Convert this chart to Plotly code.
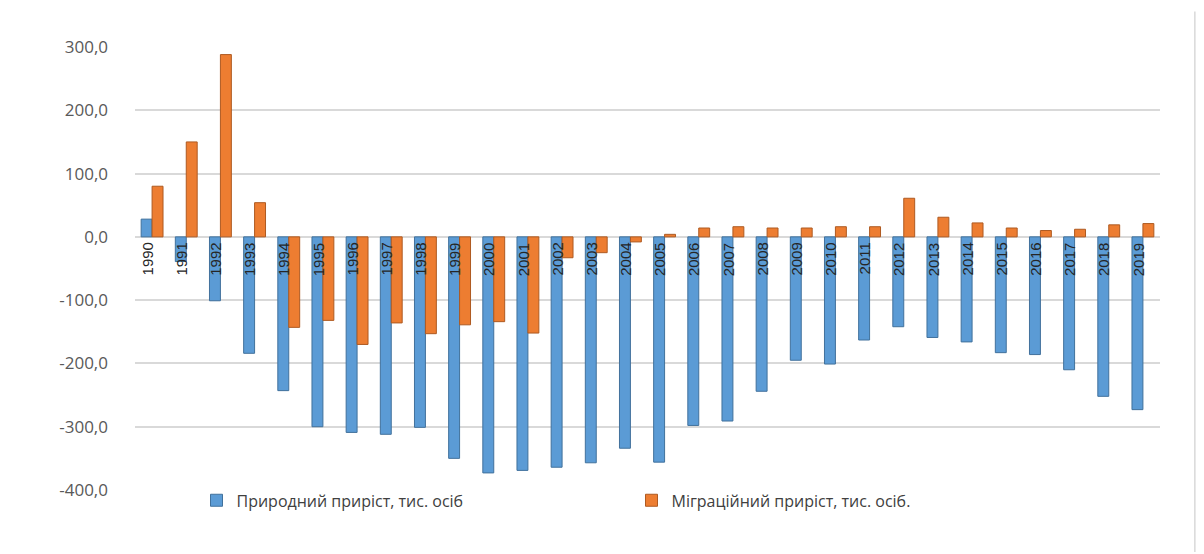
import plotly.graph_objects as go

years = [str(y) for y in range(1990, 2020)]
natural = [28, -39, -101, -184, -243, -300, -309, -312, -301, -350,
           -373, -369, -364, -357, -334, -356, -298, -291, -244, -195,
           -201, -163, -142, -159, -166, -183, -186, -210, -252, -273]
migration = [80, 150, 288, 54, -143, -132, -170, -136, -153, -139,
             -134, -152, -33, -25, -8, 4, 14, 16, 14, 14,
             16, 16, 61, 31, 22, 14, 10, 12, 19, 21]
name_nat = "Природний приріст, тис. осіб"
name_mig = "Міграційний приріст, тис. осіб."
y_ticks = [-400, -300, -200, -100, 0, 100, 200, 300]
y_tick_text = ["-400,0", "-300,0", "-200,0", "-100,0", "0,0", "100,0", "200,0", "300,0"]

fig = go.Figure()
fig.add_trace(go.Bar(x=years, y=natural, name=name_nat,
                     marker=dict(color="#5B9BD5", line=dict(color="#41719C", width=1))))
fig.add_trace(go.Bar(x=years, y=migration, name=name_mig,
                     marker=dict(color="#ED7D31", line=dict(color="#AE5A21", width=1))))

for i, yr in enumerate(years):
    fig.add_annotation(x=i, y=0, xref="x", yref="y", text=yr, showarrow=False,
                       textangle=-90, yanchor="top", yshift=-4, xshift=-5,
                       font=dict(family="Liberation Sans Narrow, Arial Narrow, Liberation Sans", size=15, color="#262626"))

fig.update_layout(
    width=1204, height=554,
    margin=dict(l=127, r=52, t=39, b=72),
    paper_bgcolor="white", plot_bgcolor="white",
    barmode="group", bargap=0.36, bargroupgap=0.0,
    font=dict(family="Open Sans, DejaVu Sans", color="#595959"),
    showlegend=True,
    legend=dict(orientation="h", x=0.06, xanchor="left", y=0.015, yanchor="top",
                font=dict(size=16, color="#404040"), entrywidth=390, itemwidth=30,
                traceorder="normal", bgcolor="rgba(0,0,0,0)"),
    xaxis=dict(type="category", range=[-0.5, 29.5], showticklabels=False, showgrid=False,
               zeroline=False, showline=False),
    yaxis=dict(range=[-400, 300], tickvals=y_ticks, ticktext=y_tick_text,
               showgrid=True, gridcolor="#d9d9d9", gridwidth=1.5,
               zeroline=True, zerolinecolor="#d9d9d9", zerolinewidth=1.5,
               tickfont=dict(size=17, color="#595959"), ticks="", ticklen=0,
               ticklabelstandoff=26, showline=False),
)
fig.add_shape(type="line", xref="paper", yref="paper", x0=1.034, x1=1.034, y0=-0.14, y1=1.08,
              line=dict(color="#d9d9d9", width=1.5))

fig.write_html("out.html")
